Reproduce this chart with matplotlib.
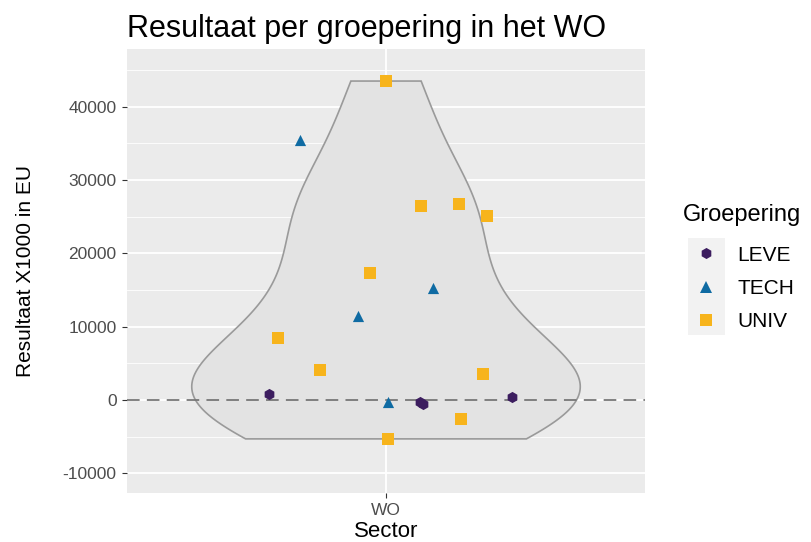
import numpy as np
import matplotlib.pyplot as plt
from matplotlib.lines import Line2D
from matplotlib.patches import Rectangle

plt.rcParams['font.family'] = ['Liberation Sans', 'DejaVu Sans']

# values (x = jitter around the WO category)
leve_x = [-0.270, 0.078, 0.086, 0.292]
leve_y = [770, -230, -590, 450]
tech_x = [-0.200, -0.066, 0.108, 0.005]
tech_y = [35500, 11500, 15200, -250]
univ_x = [0.001, 0.082, 0.169, 0.234, -0.036, -0.251, -0.153, 0.224, 0.174, 0.004]
univ_y = [43480, 26500, 26780, 25100, 17370, 8500, 4050, 3590, -2640, -5320]

groups = ['LEVE', 'TECH', 'UNIV']
colors = ['#3c1d5f', '#0f6ba3', '#f7b41c']
markers = ['h', '^', 's']
yticks = [-10000, 0, 10000, 20000, 30000, 40000]

fig = plt.figure(figsize=(8.11, 5.42), dpi=100)
ax = fig.add_axes([127/811, 1-493/542, (645-127)/811, (493-49)/542])
ax.set_facecolor('#ebebeb')

# violin: gaussian kde of all values, bw.nrd0 like ggplot, trimmed at data range
ally = np.array(leve_y + tech_y + univ_y, dtype=float)
n = len(ally)
sd = ally.std(ddof=1)
iqr = np.subtract(*np.percentile(ally, [75, 25]))
bw = 0.9 * min(sd, iqr / 1.34) * n ** (-0.2)
yy = np.linspace(ally.min(), ally.max(), 512)
dens = np.exp(-0.5 * ((yy[:, None] - ally[None, :]) / bw) ** 2).sum(axis=1)
half = 0.45 * dens / dens.max()
vx = np.concatenate([1 - half, (1 + half)[::-1], [1 - half[0]]])
vy = np.concatenate([yy, yy[::-1], [yy[0]]])
ax.fill(vx, vy, facecolor='#e3e3e3', edgecolor='#9a9a9a', lw=1.2, zorder=2)

ax.axhline(0, color='#777777', lw=1.3, ls=(0, (7, 4)), zorder=3)

xs = [leve_x, tech_x, univ_x]
ys = [leve_y, tech_y, univ_y]
for g, c, m, x, y in zip(groups, colors, markers, xs, ys):
    ax.scatter(1 + np.array(x), y, color=c, marker=m, s=65, lw=0, zorder=4)

ax.set_xlim(0.4, 1.6)
ax.set_ylim(-12700, 47850)
ax.set_xticks([1])
ax.set_xticklabels(['WO'])
ax.set_yticks(yticks)
ax.set_yticklabels([str(v) for v in yticks])
ax.set_yticks(np.arange(-10000, 47000, 5000), minor=True)
ax.grid(True, which='major', color='white', lw=1.3, zorder=0)
ax.grid(True, which='minor', axis='y', color='white', lw=0.6, zorder=0)
ax.set_axisbelow(True)
for s in ax.spines.values():
    s.set_visible(False)
ax.tick_params(axis='both', which='major', length=3.5, color='#333333',
               labelsize=12.5, labelcolor='#4d4d4d', pad=4)
ax.tick_params(axis='y', which='minor', length=0)

ax.set_xlabel('Sector', fontsize=16, labelpad=2)
ax.set_ylabel('Resultaat X1000 in EU', fontsize=15, labelpad=20)
fig.text(127/811, 1-37/542, 'Resultaat per groepering in het WO', fontsize=22,
         ha='left', va='baseline')

# legend: title as separate text, keys on a light grey strip
fig.text(683/811, 1-215/542, 'Groepering', fontsize=17, ha='left', va='center')
handles = [Line2D([], [], color=c, marker=m, ls='', markersize=8, markeredgewidth=0)
           for c, m in zip(colors, markers)]
fig.patches.append(Rectangle((688/811, 1-335/542), 37/811, 97/542,
                             transform=fig.transFigure, facecolor='#f2f2f2',
                             edgecolor='none', zorder=0))
leg = fig.legend(handles, groups, loc='center left', bbox_to_anchor=(672/811, 1-288.5/542),
                 frameon=False, fontsize=15, handlelength=1.5, handletextpad=0.75,
                 labelspacing=0.69)

fig.savefig('out.png', dpi=100)
